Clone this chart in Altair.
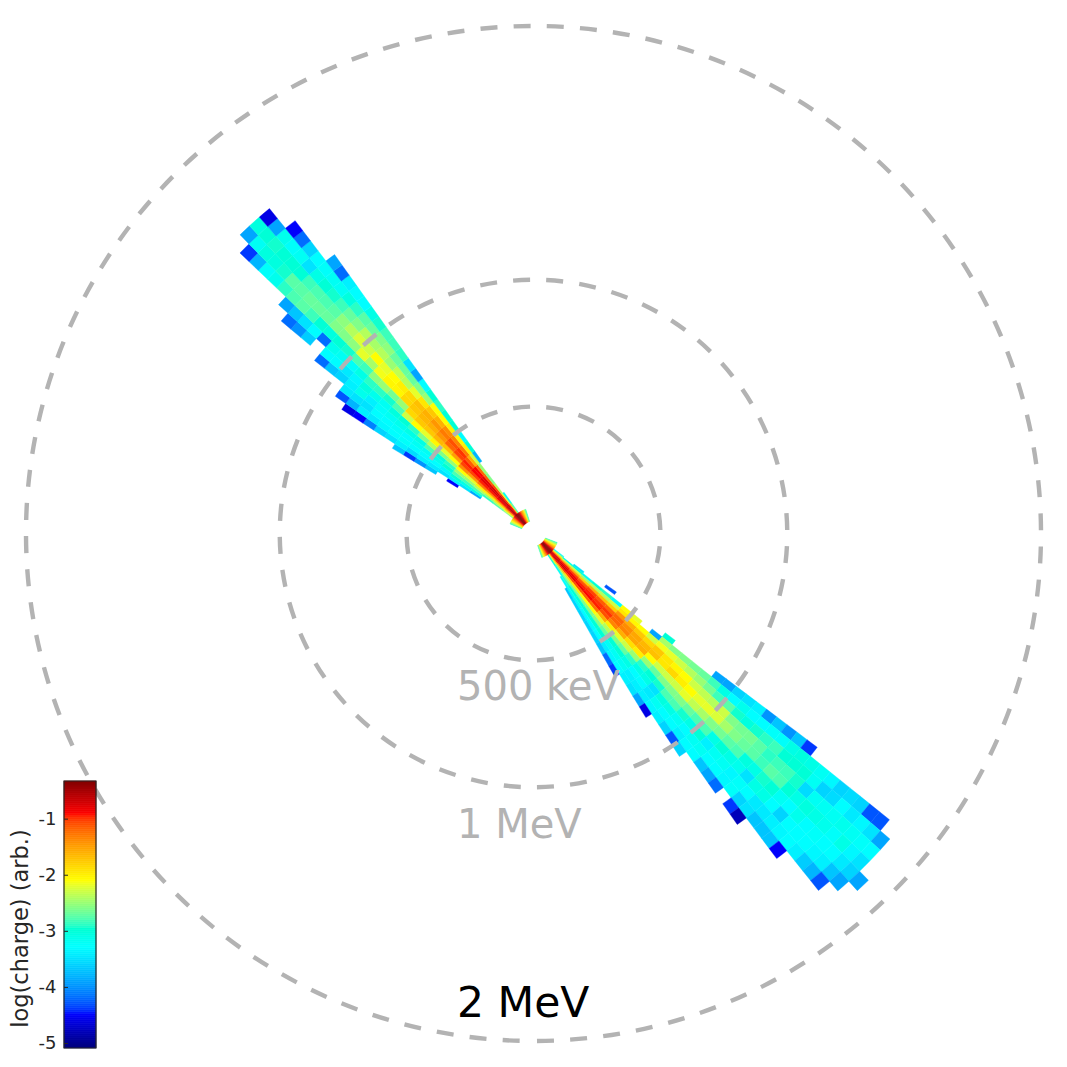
import altair as alt
import numpy as np
import pandas as pd

_ = None
# log10(charge) per energy row (0.05 MeV wide, starting at 0.05 MeV) and angle column
lower_lobe = [
 [],
 [_,-3.3,-2.6,-2.0,-1.3,-0.85,-0.65,-0.65,-0.9,-1.5,-2.2,-3.0],
 [_,_,-3.1,-2.3,-1.5,-0.95,-0.75,-0.7,-0.95,-1.7,-2.5,-3.2],
 [_,-3.5,-3.0,-2.3,-1.6,-1.05,-0.85,-0.8,-1.05,-1.9,-2.5,-2.9,-3.3],
 [_,_,-3.2,-2.5,-1.8,-1.15,-0.95,-0.85,-1.1,-2.0,-2.6,-3.0,-3.2,-3.7],
 [_,_,-3.0,-2.4,-1.6,-1.05,-0.95,-0.9,-1.15,-2.1,-2.6,-3.0,-3.2,-3.6],
 [-4.3,_,-2.9,-2.4,-1.7,-1.15,-1.0,-0.95,-1.25,-2.1,-2.6,-3.0,-3.3,-3.6],
 [_,_,-3.3,-2.3,-1.8,-1.2,-1.0,-1.1,-1.6,-2.2,-2.6,-3.0,-3.3,-3.6],
 [_,_,-2.1,-1.95,-1.45,-1.2,-1.2,-1.35,-2.0,-2.4,-2.7,-3.0,-3.3,-3.6],
 [_,_,-2.2,-2.05,-1.6,-1.4,-1.35,-1.6,-2.2,-2.6,-3.0,-3.2,-3.4,-3.7],
 [_,_,_,-2.1,-1.75,-1.55,-1.55,-1.9,-2.3,-2.7,-3.0,-3.2,-3.35,-4.2],
 [_,_,-3.9,-2.3,-1.85,-1.65,-1.6,-2.0,-2.5,-2.9,-3.1,-3.2,-3.3,-4.4],
 [_,-3.0,-2.45,-2.15,-1.75,-1.7,-2.1,-2.5,-2.9,-3.1,-3.3,-3.4,-3.4],
 [_,_,-2.6,-2.2,-1.95,-1.95,-2.3,-2.7,-3.0,-3.1,-3.3,-3.4,-3.5],
 [_,_,-2.6,-2.3,-2.05,-1.85,-2.3,-2.6,-2.95,-3.5,-3.45,-3.4,-3.9],
 [_,_,-2.65,-2.4,-2.1,-2.0,-2.3,-2.6,-2.8,-3.05,-3.2,-3.35,-4.6],
 [_,_,-2.7,-2.5,-2.3,-2.1,-2.2,-2.6,-2.8,-3.1,-3.3,-3.4],
 [_,-3.9,-2.85,-2.65,-2.35,-2.2,-2.35,-2.7,-2.95,-3.2,-3.3,-3.6],
 [_,-3.9,-3.1,-2.85,-2.4,-2.2,-2.45,-2.8,-3.1,-3.3,-3.4,-4.3],
 [_,-3.6,-3.3,-2.75,-2.3,-2.25,-2.6,-2.8,-3.0,-3.2,-3.3,-3.6],
 [_,-3.5,-3.15,-2.95,-2.6,-2.45,-2.65,-3.1,-3.4,-3.2,-3.3],
 [_,-3.4,-3.3,-3.05,-2.65,-2.6,-2.75,-3.0,-3.2,-3.3,-3.7],
 [_,-4.0,-3.3,-2.95,-2.65,-2.7,-2.8,-3.1,-3.2,-3.3,-3.9],
 [_,-3.7,-3.25,-2.9,-2.75,-2.75,-3.05,-3.15,-3.35,-3.35,-4.2],
 [_,-4.0,-3.25,-2.85,-2.9,-2.85,-3.1,-3.5,-3.25,-3.25],
 [_,-3.7,-3.1,-3.0,-2.85,-2.75,-2.95,-3.1,-3.3,-3.6,-4.4],
 [_,-4.4,-3.05,-3.0,-2.85,-2.8,-3.0,-3.1,-3.45,-3.5,-4.8],
 [_,_,-3.1,-3.0,-2.95,-3.0,-3.2,-3.3,-3.45,-3.7],
 [_,_,-3.2,-3.2,-3.55,-3.1,-3.3,-3.6,-3.4,-3.7],
 [_,_,-3.35,-3.6,-3.2,-3.05,-3.15,-3.3,-3.35,-3.7],
 [_,_,-3.6,-3.55,-3.2,-3.1,-3.3,-3.3,-3.3,-4.5],
 [_,_,-3.55,-3.3,-3.2,-3.15,-3.25,-3.3,-3.4],
 [_,_,-3.6,-3.45,-3.15,-3.25,-3.3,-3.35,-3.65],
 [_,_,-4.3,-3.35,-3.2,-3.1,-3.3,-3.4,-3.8],
 [_,_,-4.3,-3.5,-3.25,-3.35,-3.45,-3.7,-4.3],
 [_,_,_,-3.9,-3.3,-3.5,-3.6,-3.9],
 [_,_,_,_,_,_,-3.9],
]
upper_lobe = [
 [],
 [_,_,_,-2.6,-2.2,-1.7,-1.2,-0.8,-0.6,-0.6,-0.9,-1.8,-2.8],
 [_,_,_,-2.8,-2.4,-1.9,-1.3,-0.9,-0.7,-0.7,-1.0,-2.2,-3.2],
 [_,_,_,-2.9,-2.5,-2.0,-1.4,-0.95,-0.75,-0.75,-1.05,-2.4],
 [_,-3.9,-3.1,-2.8,-2.4,-2.0,-1.3,-0.95,-0.8,-0.8,-1.15,-2.6],
 [_,-3.5,-3.1,-2.85,-2.5,-2.2,-1.5,-1.05,-0.9,-0.9,-1.2,-2.5],
 [-4.5,-3.4,-3.0,-2.8,-2.5,-2.1,-1.4,-1.05,-0.95,-1.15,-1.6,-2.3,-3.8],
 [_,-3.5,-3.35,-3.0,-2.9,-2.5,-2.1,-1.5,-1.05,-1.0,-1.3,-2.0,-3.0],
 [-3.7,-3.45,-3.3,-3.15,-3.05,-2.6,-2.2,-1.7,-1.2,-1.1,-1.35,-2.05,-3.3],
 [-4.0,-3.4,-3.3,-3.2,-2.8,-2.4,-2.05,-1.65,-1.45,-1.3,-1.4,-2.0,-3.0],
 [-4.4,-3.55,-3.3,-3.2,-3.1,-2.6,-2.2,-1.75,-1.6,-1.45,-1.6,-2.1,-3.0],
 [-3.7,-3.4,-3.25,-3.3,-3.1,-2.9,-2.1,-1.75,-1.65,-1.6,-1.75,-2.1,-2.9],
 [_,-3.5,-3.3,-3.25,-3.15,-3.0,-2.3,-1.85,-1.75,-1.7,-1.95,-2.5,-3.0],
 [_,-3.6,-3.35,-3.3,-3.2,-3.05,-2.8,-2.5,-1.85,-1.85,-2.2,-2.6,-3.3],
 [_,-4.1,-3.45,-3.3,-3.25,-3.2,-2.95,-2.65,-2.05,-2.0,-2.4,-2.7,-3.9],
 [_,-4.5,-3.4,-3.5,-3.4,-3.15,-2.9,-2.5,-2.05,-2.1,-2.35,-2.7,-3.5],
 [_,-4.6,-3.8,-3.5,-3.15,-3.05,-2.9,-2.55,-2.15,-2.2,-2.5,-2.7,-2.9],
 [_,_,-4.3,-3.45,-3.4,-3.35,-3.1,-2.85,-2.45,-2.1,-2.4,-2.55,-2.85],
 [_,_,_,_,-3.6,-3.45,-3.25,-2.8,-2.2,-2.3,-2.45,-2.6,-2.85],
 [_,_,_,_,-3.7,-3.3,-3.2,-2.95,-2.55,-2.25,-2.4,-2.7,-2.95],
 [_,_,_,_,-4.2,-3.3,-3.15,-3.0,-2.6,-2.4,-2.6,-2.75,-3.1],
 [_,_,_,_,_,_,-4.2,-3.05,-2.6,-2.55,-2.7,-2.9,-3.3],
 [_,_,_,_,_,-3.65,-3.3,-3.0,-2.7,-2.75,-2.85,-3.05,-3.3],
 [_,_,_,_,_,-4.0,-3.5,-2.85,-2.7,-2.8,-2.95,-3.2,-3.4],
 [_,_,_,_,_,-4.2,-3.7,-2.75,-2.7,-2.8,-3.0,-3.2,-4.2],
 [_,_,_,_,_,_,-3.9,-2.8,-2.75,-2.85,-3.1,-3.25,-3.9],
 [_,_,_,_,_,_,_,-2.9,-2.75,-3.0,-3.5,-3.3],
 [_,_,_,_,_,_,_,-3.15,-2.95,-3.0,-3.2,-3.6],
 [_,_,_,_,_,_,_,-3.25,-3.05,-3.0,-3.25,-4.2],
 [_,_,_,_,_,_,_,-3.8,-3.05,-2.95,-3.15,-4.5],
 [_,_,_,_,_,_,_,-4.4,-3.2,-3.0,-3.9],
 [_,_,_,_,_,_,_,_,-3.9,-3.05,-4.6],
]
# innermost energy row of each lobe, which spreads over a wider angle
lower_core = [[-2.9,-2.6,-2.5,-2.3,-2.1,-1.9,-1.7,-1.5,-1.3,-1.1,-0.9,-0.7,-0.5,-0.4,
               -0.35,-0.35,-0.4,-0.5,-0.7,-0.9,-1.1,-1.3,-1.5,-1.7,-2.0,-2.2,-2.5,-2.8]]
upper_core = [[-2.9,-2.7,-2.5,-2.3,-2.1,-1.9,-1.7,-1.5,-1.3,-1.1,-0.9,-0.7,-0.5,-0.4,
               -0.35,-0.35,-0.4,-0.5,-0.7,-0.9,-1.1,-1.3,-1.5,-1.7,-1.9,-2.2,-2.5,-2.8]]
ring_energies = [0.5, 1.0, 2.0]
colorbar_ticks = [-5, -4, -3, -2, -1]

E_STEP = 0.05
ANG_STEP = 1.8
LOWER_START = 90 + 35.2
UPPER_START = 270 + 31.1
LOWER_CORE_START = 90 + 20.8
UPPER_CORE_START = 270 + 22.1
LOG_MIN, LOG_MAX = -5.08, -0.32

def cells(table, start):
    rows = []
    for i, row in enumerate(table):
        for k, v in enumerate(row):
            if v is not None:
                rows.append(dict(e0=E_STEP * (i + 1), e1=E_STEP * (i + 2),
                                 t0=start + ANG_STEP * k, t1=start + ANG_STEP * (k + 1), v=v))
    return rows

cell_df = pd.DataFrame(cells(lower_lobe, LOWER_START) + cells(upper_lobe, UPPER_START)
                       + cells(lower_core, LOWER_CORE_START) + cells(upper_core, UPPER_CORE_START))

jet_stops = [0, .125, .375, .625, .875, 1]
jet_colors = ["#000080", "#0000ff", "#00ffff", "#ffff00", "#ff0000", "#800000"]
color_scale = alt.Scale(domain=[LOG_MIN + s * (LOG_MAX - LOG_MIN) for s in jet_stops], range=jet_colors, clamp=True)

theta_scale = alt.Scale(domain=[-360, 360], range=[-2 * np.pi, 2 * np.pi])
radius_scale = alt.Scale(domain=[0, 2], range=[0, 507.5])

cells_layer = alt.Chart(cell_df).mark_arc(strokeWidth=0.4).encode(
    theta=alt.Theta("t0:Q", scale=theta_scale),
    theta2="t1:Q",
    radius=alt.Radius("e1:Q", scale=radius_scale),
    radius2="e0:Q",
    color=alt.Color("v:Q", scale=color_scale, legend=None),
    stroke=alt.Stroke("v:Q", scale=color_scale, legend=None),
)

ring_df = pd.DataFrame({"e": ring_energies, "t0": [180, 180, 180], "t1": [-180, -180, -180]})
rings_layer = alt.Chart(ring_df).mark_arc(
    fillOpacity=0, stroke="#b3b3b3", strokeWidth=4.4, strokeDash=[17, 16.2], strokeDashOffset=-3.5
).encode(
    theta=alt.Theta("t0:Q", scale=theta_scale),
    theta2="t1:Q",
    radius=alt.Radius("e:Q", scale=radius_scale),
)

def label(txt, x, y, col, size=40):
    return alt.Chart(pd.DataFrame({"t": [txt]})).mark_text(
        font="DejaVu Sans", fontSize=size, align="left", baseline="alphabetic", color=col
    ).encode(text="t:N", x=alt.value(x), y=alt.value(y))

labels = [label("500 keV", 449, 692, "#b3b3b3"),
          label("1 MeV", 449, 830, "#b3b3b3"),
          label("2 MeV", 449, 1009, "#000000", 42.5)]

bar_scale = alt.Scale(domain=[LOG_MIN, LOG_MAX], range=[1040, 773])
edges = np.linspace(LOG_MIN, LOG_MAX, 134)
bar_df = pd.DataFrame({"lo": edges[:-1], "hi": edges[1:]})
bar_layer = alt.Chart(bar_df).mark_rect(strokeWidth=0.6).encode(
    x=alt.value(56), x2=alt.value(88),
    y=alt.Y("lo:Q", scale=bar_scale, axis=alt.Axis(
        orient="left", offset=-56, domain=False, ticks=False, grid=False,
        values=colorbar_ticks, labelExpr="'-' + abs(datum.value)",
        labelFontSize=18, labelFont="DejaVu Sans", labelColor="#262626", labelPadding=8,
        title="log(charge) (arb.)", titleFontSize=22.5, titleFont="DejaVu Sans",
        titleFontWeight="normal", titleColor="#262626", titleX=-32, titleY=920)),
    y2="hi:Q",
    color=alt.Color("lo:Q", scale=color_scale, legend=None),
    stroke=alt.Stroke("lo:Q", scale=color_scale, legend=None),
)
bar_frame = alt.Chart(pd.DataFrame({"lo": [LOG_MIN], "hi": [LOG_MAX]})).mark_rect(
    fillOpacity=0, stroke="#262626", strokeWidth=1.2
).encode(x=alt.value(56), x2=alt.value(88),
         y=alt.Y("lo:Q", scale=bar_scale), y2="hi:Q")
bar_ticks = alt.Chart(pd.DataFrame({"v": colorbar_ticks})).mark_rule(
    stroke="#262626", strokeWidth=1
).encode(x=alt.value(56), x2=alt.value(60), y=alt.Y("v:Q", scale=bar_scale))

chart = alt.layer(
    cells_layer, rings_layer, *labels, bar_layer, bar_frame, bar_ticks
).properties(width=1051, height=1051, autosize="none", padding=0, background="white").configure_view(stroke=None)

chart.save("out.html", embed_options={"renderer": "svg", "actions": False})
